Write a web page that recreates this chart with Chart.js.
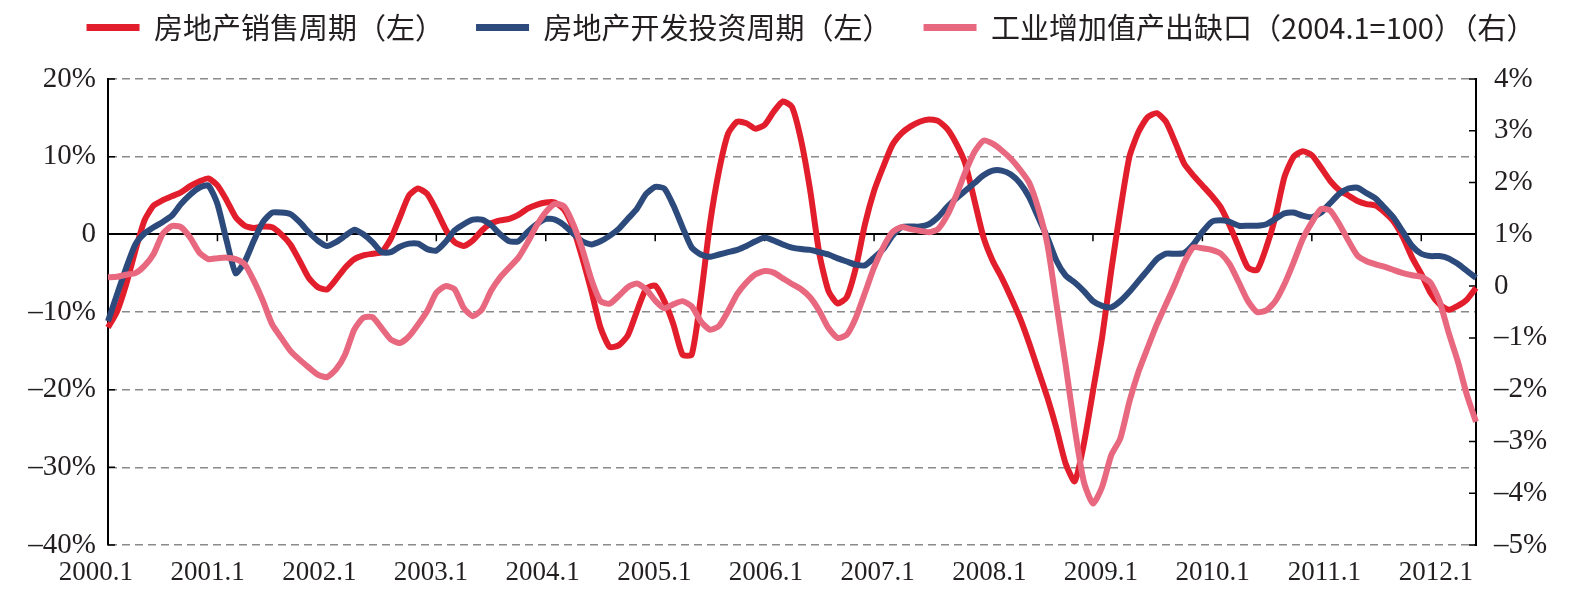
<!DOCTYPE html>
<html>
<head>
<meta charset="utf-8">
<script src="https://cdn.jsdelivr.net/npm/chart.js@4.4.0/dist/chart.umd.min.js"></script>
<style>
  html, body { margin: 0; padding: 0; background: #fff; }
</style>
</head>
<body>
<canvas id="myChart" width="1586" height="598"></canvas>
<script>
// monthly categories 2000.1 .. 2012.7
const months = [];
for (let y = 2000; y <= 2012; y++) {
    for (let m = 1; m <= 12; m++) {
        if (y === 2012 && m > 7) break;
        months.push(y + '.' + m);
    }
}
// positions (month index) that carry a year label: 2000.1 ... 2012.1
const yearStarts = [0, 12, 24, 36, 48, 60, 72, 84, 96, 108, 120, 132, 144];

const seriesNames = ['房地产销售周期（左）', '房地产开发投资周期（左）', '工业增加值产出缺口（2004.1=100）（右）'];

// 房地产销售周期, % (left axis)
const salesCycle = [
    -12.0, -9.9, -6.4, -2.1, 1.8, 3.7, 4.4, 4.9, 5.4, 6.2, 6.8, 7.2,
    6.3, 4.4, 2.2, 1.1, 0.8, 1.0, 0.9, 0.0, -1.3, -3.4, -5.6, -6.8,
    -7.1, -5.8, -4.3, -3.2, -2.7, -2.5, -2.3, -0.6, 2.2, 5.0, 5.9, 5.2,
    3.1, 0.7, -1.0, -1.5, -0.8, 0.5, 1.4, 1.8, 2.0, 2.5, 3.3, 3.8,
    4.1, 4.1, 3.2, 0.8, -3.0, -7.3, -12.0, -14.5, -14.3, -13.0, -9.9, -7.0,
    -6.6, -8.6, -11.6, -15.5, -15.5, -8.1, 1.3, 8.2, 13.0, 14.5, 14.3, 13.6,
    14.1, 15.8, 17.1, 16.4, 12.1, 5.6, -2.5, -7.3, -8.9, -8.1, -4.3, 1.3,
    5.6, 8.7, 11.5, 13.0, 13.9, 14.5, 14.8, 14.6, 13.6, 11.7, 9.1, 4.4,
    -0.4, -3.4, -5.6, -8.1, -10.8, -14.0, -17.5, -21.0, -25.0, -29.5, -31.8, -27.0,
    -20.2, -13.3, -4.7, 3.1, 10.0, 13.2, 15.1, 15.6, 14.5, 11.9, 9.1, 7.6,
    6.3, 5.0, 3.5, 1.1, -1.7, -4.3, -4.6, -1.7, 2.2, 7.4, 10.0, 10.7,
    10.2, 8.6, 6.9, 5.7, 5.0, 4.3, 3.9, 3.7, 2.8, 1.6, -0.4, -3.0,
    -5.1, -7.5, -9.0, -9.7, -9.2, -8.4, -6.9
];

// 房地产开发投资周期, % (left axis)
const investCycle = [
    -11.2, -7.7, -4.3, -1.3, 0.1, 0.9, 1.6, 2.4, 3.9, 5.1, 6.0, 6.3,
    3.9, -0.8, -5.0, -3.5, -0.8, 1.6, 2.8, 2.8, 2.6, 1.6, 0.3, -0.8,
    -1.5, -1.0, -0.2, 0.6, 0.0, -1.0, -2.3, -2.3, -1.6, -1.2, -1.2, -1.9,
    -2.1, -1.0, 0.5, 1.3, 1.9, 1.9, 1.2, 0.0, -0.9, -0.9, 0.3, 1.3,
    2.0, 1.9, 1.2, 0.1, -0.9, -1.3, -0.9, -0.2, 0.7, 2.0, 3.3, 5.2,
    6.1, 5.9, 3.7, 0.9, -1.7, -2.6, -2.9, -2.6, -2.3, -2.0, -1.5, -0.9,
    -0.4, -0.8, -1.3, -1.7, -1.9, -2.0, -2.3, -2.6, -3.1, -3.5, -3.9, -4.0,
    -3.0, -1.9, -0.2, 0.9, 1.0, 1.0, 1.3, 2.2, 3.5, 4.6, 5.6, 6.6,
    7.6, 8.2, 8.2, 7.7, 6.6, 4.8, 2.2, -0.4, -3.4, -5.3, -6.2, -7.3,
    -8.6, -9.2, -9.4, -8.6, -7.4, -6.0, -4.6, -3.2, -2.5, -2.5, -2.4, -1.3,
    0.3, 1.6, 1.8, 1.6, 1.1, 1.1, 1.1, 1.3, 2.0, 2.7, 2.8, 2.4,
    2.2, 2.8, 4.0, 5.2, 5.9, 6.0, 5.3, 4.6, 3.4, 2.1, 0.3, -1.5,
    -2.5, -2.8, -2.8, -3.1, -3.8, -4.7, -5.6
];

// 工业增加值产出缺口, % (right axis)
const outputGap = [
    0.17, 0.18, 0.22, 0.25, 0.39, 0.62, 1.01, 1.16, 1.14, 0.94, 0.65, 0.52,
    0.54, 0.55, 0.52, 0.42, 0.10, -0.29, -0.74, -1.00, -1.25, -1.42, -1.57, -1.71,
    -1.76, -1.61, -1.32, -0.84, -0.61, -0.60, -0.81, -1.03, -1.10, -0.97, -0.74, -0.48,
    -0.13, 0.00, -0.06, -0.42, -0.58, -0.45, -0.09, 0.17, 0.36, 0.55, 0.84, 1.17,
    1.43, 1.59, 1.54, 1.20, 0.72, 0.13, -0.29, -0.34, -0.19, -0.02, 0.05, -0.06,
    -0.28, -0.43, -0.35, -0.29, -0.39, -0.68, -0.84, -0.77, -0.48, -0.15, 0.07, 0.23,
    0.29, 0.26, 0.15, 0.04, -0.06, -0.22, -0.48, -0.81, -1.00, -0.94, -0.61, -0.13,
    0.36, 0.75, 1.04, 1.14, 1.10, 1.07, 1.04, 1.10, 1.36, 1.75, 2.20, 2.59,
    2.81, 2.75, 2.62, 2.46, 2.25, 2.00, 1.50, 0.81, -0.35, -1.52, -2.75, -3.78,
    -4.20, -3.88, -3.27, -2.94, -2.23, -1.65, -1.19, -0.74, -0.35, 0.04, 0.46, 0.75,
    0.73, 0.70, 0.63, 0.42, 0.07, -0.29, -0.50, -0.47, -0.29, 0.04, 0.46, 0.91,
    1.23, 1.49, 1.46, 1.20, 0.88, 0.59, 0.48, 0.42, 0.37, 0.31, 0.25, 0.21,
    0.18, 0.07, -0.29, -0.90, -1.45, -2.10, -2.62
];

const leftTicks = [-40, -30, -20, -10, 0, 10, 20];
const rightTicks = [-5, -4, -3, -2, -1, 0, 1, 2, 3, 4];

const txtColor = '#231f20';
const serif = 'Liberation Serif';

function pct(v) {
    if (v === 0) return '0';
    return (v < 0 ? '–' + (-v) : v) + '%';
}

// small tick marks drawn inside the plot, like the original
const innerTicks = {
    id: 'innerTicks',
    beforeDatasetsDraw(chart) {
        const ctx = chart.ctx;
        const x = chart.scales.x, y = chart.scales.y, y1 = chart.scales.y1;
        ctx.save();
        ctx.strokeStyle = '#000';
        ctx.lineWidth = 1.5;
        ctx.beginPath();
        leftTicks.forEach(v => {
            const py = y.getPixelForValue(v);
            ctx.moveTo(y.right, py);
            ctx.lineTo(y.right + 7, py);
        });
        rightTicks.forEach(v => {
            const py = y1.getPixelForValue(v);
            ctx.moveTo(y1.left, py);
            ctx.lineTo(y1.left - 7, py);
        });
        const y0 = y.getPixelForValue(0);
        yearStarts.forEach(i => {
            if (i > 0) {
                const px = x.getPixelForValue(i);
                ctx.moveTo(px, y0);
                ctx.lineTo(px, y0 + 7);
            }
        });
        ctx.stroke();
        ctx.restore();
    }
};

// keep legend height fixed and move its row into place
const legendPlace = {
    id: 'legendPlace',
    beforeLayout(chart) {
        const lg = chart.legend;
        if (lg && !lg._fixed) {
            const orig = lg.fit;
            lg.fit = function () { orig.call(this); this.height = 79; };
            lg._fixed = true;
        }
    },
    afterLayout(chart) {
        const lg = chart.legend;
        lg.top -= 19;
        lg.bottom -= 19;
        lg.left += 18;
        lg.right += 18;
    }
};

const ctx = document.getElementById('myChart').getContext('2d');
const myChart = new Chart(ctx, {
    type: 'line',
    data: {
        labels: months,
        datasets: [
            {
                label: seriesNames[0],
                data: salesCycle,
                borderColor: '#e31e2c',
                backgroundColor: '#e31e2c',
                yAxisID: 'y',
                order: 3
            },
            {
                label: seriesNames[1],
                data: investCycle,
                borderColor: '#2c4a7c',
                backgroundColor: '#2c4a7c',
                yAxisID: 'y',
                order: 2
            },
            {
                label: seriesNames[2],
                data: outputGap,
                borderColor: '#e8687f',
                backgroundColor: '#e8687f',
                yAxisID: 'y1',
                order: 1
            }
        ]
    },
    options: {
        responsive: false,
        animation: false,
        layout: { padding: 0 },
        elements: {
            point: { radius: 0 },
            line: { borderWidth: 6, tension: 0.2, borderJoinStyle: 'round', fill: false }
        },
        plugins: {
            tooltip: { enabled: false },
            legend: {
                position: 'top',
                labels: {
                    boxWidth: 53,
                    boxHeight: 7,
                    padding: 32,
                    color: txtColor,
                    font: { family: 'Noto Sans CJK SC', size: 29 },
                    sort: (a, b) => a.datasetIndex - b.datasetIndex,
                    generateLabels: chart => Chart.defaults.plugins.legend.labels.generateLabels(chart)
                        .map(l => Object.assign(l, { lineWidth: 0, fillStyle: l.strokeStyle }))
                }
            }
        },
        scales: {
            x: {
                type: 'category',
                offset: false,
                grid: { display: false, drawTicks: false },
                border: { display: false },
                ticks: { display: false },
                afterFit: s => { s.height = 0; }
            },
            // axis that only carries the year labels, spread a bit wider than the plot like the original
            xl: {
                type: 'linear',
                position: 'bottom',
                min: 1.29,
                max: 148.3,
                grid: { display: false, drawTicks: false },
                border: { display: false },
                afterBuildTicks: s => { s.ticks = yearStarts.map(v => ({ value: v })); },
                ticks: {
                    autoSkip: false,
                    maxRotation: 0,
                    minRotation: 0,
                    padding: 12,
                    color: txtColor,
                    font: { family: serif, size: 27 },
                    callback: v => months[v]
                },
                afterFit: s => { s.height = 53; }
            },
            y: {
                position: 'left',
                min: -40,
                max: 20,
                afterBuildTicks: s => { s.ticks = leftTicks.map(v => ({ value: v })); },
                ticks: {
                    padding: 12,
                    color: txtColor,
                    font: { family: serif, size: 29 },
                    callback: v => pct(v)
                },
                grid: {
                    drawTicks: false,
                    color: c => (c.tick && c.tick.value === 0) ? '#000' : '#8a8a8a',
                    lineWidth: c => (c.tick && c.tick.value === 0) ? 2 : 1.5
                },
                border: {
                    display: true,
                    color: '#000',
                    width: 2,
                    dash: c => (c.tick && c.tick.value === 0) ? [] : [8, 5]
                },
                afterFit: s => { s.width = 108; }
            },
            y1: {
                position: 'right',
                min: -5,
                max: 4,
                afterBuildTicks: s => { s.ticks = rightTicks.map(v => ({ value: v })); },
                ticks: {
                    padding: 18,
                    color: txtColor,
                    font: { family: serif, size: 29 },
                    callback: v => pct(v)
                },
                grid: { display: false, drawTicks: false },
                border: { display: true, color: '#000', width: 2 },
                afterFit: s => { s.width = 110; }
            }
        }
    },
    plugins: [innerTicks, legendPlace]
});
</script>
</body>
</html>
